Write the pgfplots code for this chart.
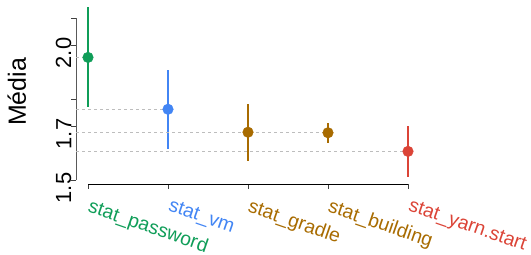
\documentclass[border=0pt]{standalone}
\usepackage{pgfplots}
\pgfplotsset{compat=1.18}
\usepackage{fontspec}
\setmainfont{Liberation Sans}
\definecolor{cgreen}{HTML}{0F9D58}
\definecolor{cblue}{HTML}{4285F4}
\definecolor{cbrown}{HTML}{A86B00}
\definecolor{cred}{HTML}{DB4437}
\definecolor{cdot}{HTML}{BDBDBD}
\begin{document}
\begin{tikzpicture}
\useasboundingbox (0,0) rectangle (531bp,255bp);
\begin{axis}[
  at={(76bp,71bp)}, anchor=south west,
  scale only axis, width=340bp, height=182.2bp,
  xmin=-0.15, xmax=4.1, ymin=1.4852, ymax=2.16,
  clip=false,
  axis x line*=bottom, axis y line*=left,
  axis line style={draw=none},
  tick align=outside,
  major tick length=4.5bp,
  xtick={0,1,2,3,4},
  xticklabels={\textcolor{cgreen}{stat\_password},\textcolor{cblue}{stat\_vm},\textcolor{cbrown}{stat\_gradle},\textcolor{cbrown}{stat\_building},\textcolor{cred}{stat\_yarn.start}},
  x tick label style={rotate=-19, anchor=north west, inner sep=0pt, yshift=-8bp, xshift=6.5bp,
     font=\fontsize{19.5}{21}\selectfont},
  ytick={1.5,1.7,1.8,2.0,2.1},
  yticklabels={1.5,1.7,,2.0,},
  /pgf/number format/assume math mode=true,
  y tick label style={rotate=90, anchor=south, inner sep=0pt, xshift=-8bp,
     font=\fontsize{22}{24}\selectfont},
  ylabel={Média},
  ylabel style={at={(axis description cs:-0.146,0.505)}, anchor=south, rotate=0, inner sep=0pt,
     font=\fontsize{25}{27}\selectfont},
  every tick/.style={line width=0.9bp, color=black!75},
]
% axis lines as in the reference (detached)
\draw[line width=0.9bp, color=black!65] (axis cs:-0.15,1.5) -- (axis cs:-0.15,2.1);
\draw[line width=0.9bp, color=black] (axis cs:0,1.4852) -- (axis cs:4,1.4852);
% points with error bars
\addplot[color=cgreen, mark=*, mark size=5.3bp, only marks,
  error bars/.cd, y dir=both, y explicit, error mark=none,
  error bar style={line width=1.6bp, color=cgreen}]
  coordinates {(0,1.954) += (0,0.186) -= (0,0.183)};
\addplot[color=cblue, mark=*, mark size=5.3bp, only marks,
  error bars/.cd, y dir=both, y explicit, error mark=none,
  error bar style={line width=1.6bp, color=cblue}]
  coordinates {(1,1.762) += (0,0.145) -= (0,0.147)};
\addplot[color=cbrown, mark=*, mark size=5.3bp, only marks,
  error bars/.cd, y dir=both, y explicit, error mark=none,
  error bar style={line width=1.6bp, color=cbrown}]
  coordinates {(2,1.677) += (0,0.106) -= (0,0.106)};
\addplot[color=cbrown, mark=*, mark size=5.3bp, only marks,
  error bars/.cd, y dir=both, y explicit, error mark=none,
  error bar style={line width=1.6bp, color=cbrown}]
  coordinates {(3,1.675) += (0,0.035) -= (0,0.039)};
\addplot[color=cred, mark=*, mark size=5.3bp, only marks,
  error bars/.cd, y dir=both, y explicit, error mark=none,
  error bar style={line width=1.6bp, color=cred}]
  coordinates {(4,1.606) += (0,0.093) -= (0,0.095)};
% dotted reference lines
\addplot[cdot, line width=1bp, dash pattern=on 2.5bp off 3.5bp, no marks] coordinates {(-0.15,1.954) (0,1.954)};
\addplot[cdot, line width=1bp, dash pattern=on 2.5bp off 3.5bp, no marks] coordinates {(-0.15,1.762) (1,1.762)};
\addplot[cdot, line width=1bp, dash pattern=on 2.5bp off 3.5bp, no marks] coordinates {(-0.15,1.677) (2,1.677)};
\addplot[cdot, line width=1bp, dash pattern=on 2.5bp off 3.5bp, no marks] coordinates {(-0.15,1.675) (3,1.675)};
\addplot[cdot, line width=1bp, dash pattern=on 2.5bp off 3.5bp, no marks] coordinates {(-0.15,1.606) (4,1.606)};
\end{axis}
\end{tikzpicture}
\end{document}
